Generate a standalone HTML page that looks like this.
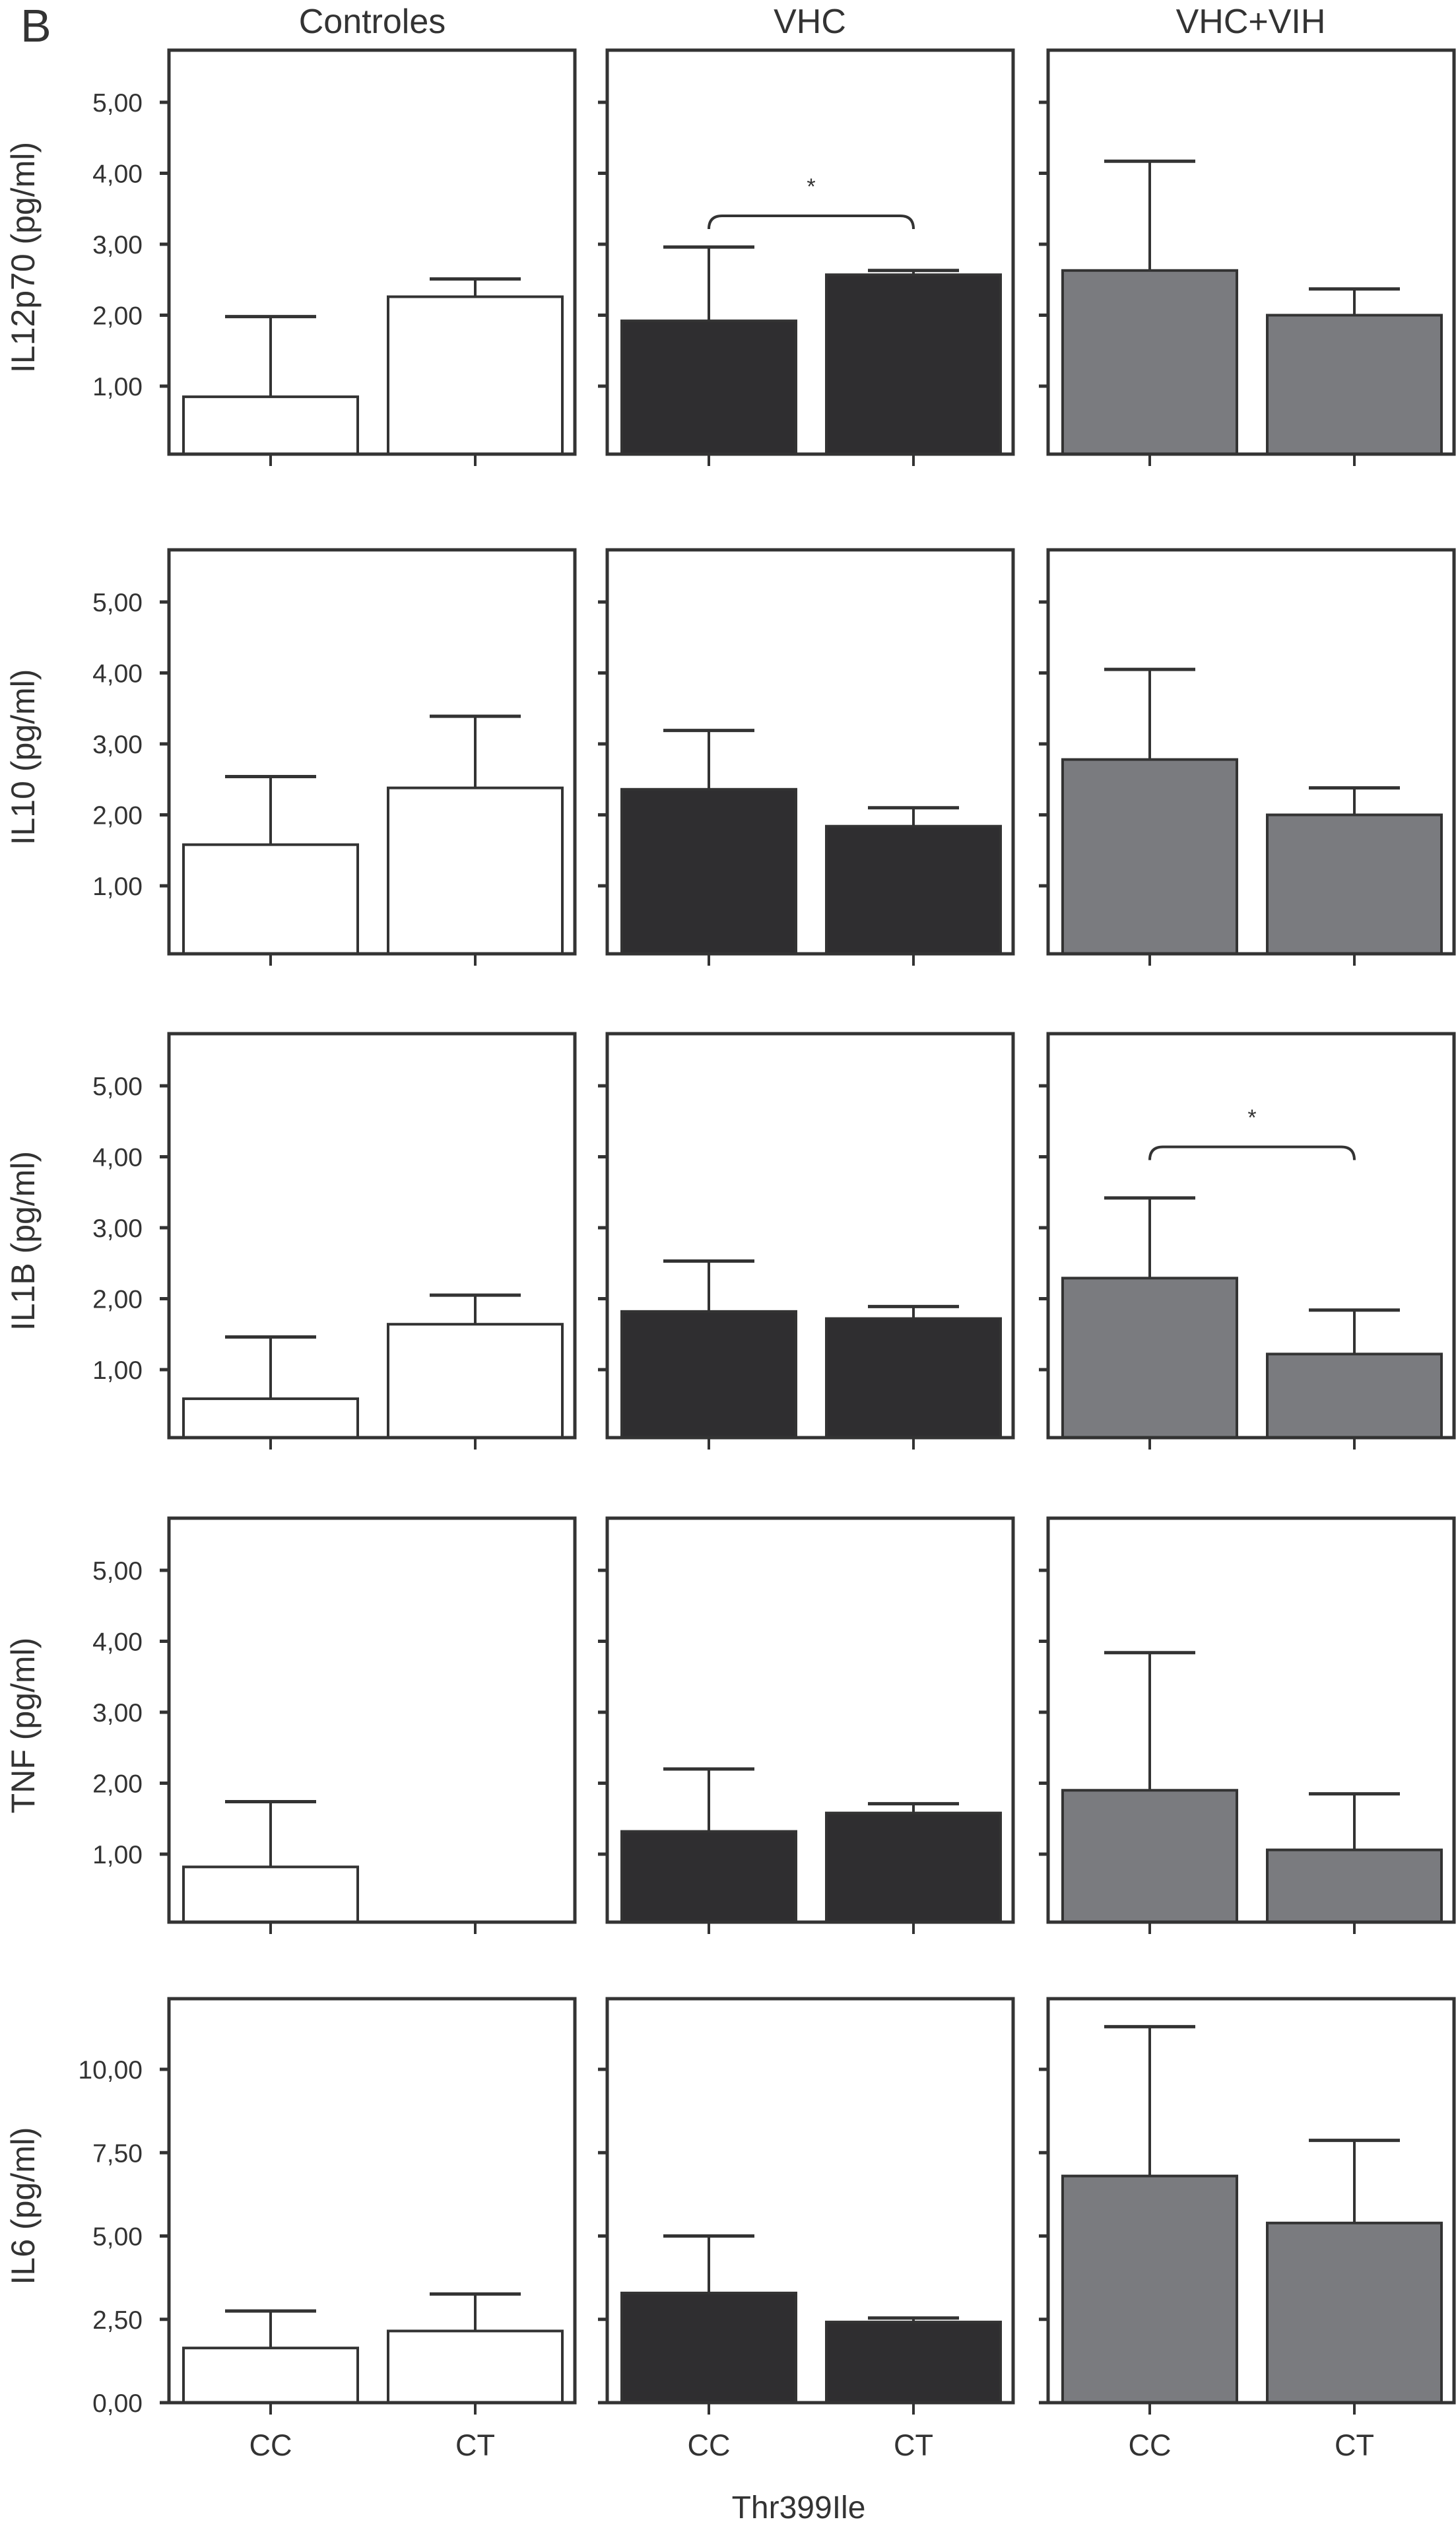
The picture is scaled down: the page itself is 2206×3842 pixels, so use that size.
<!DOCTYPE html>
<html><head><meta charset="utf-8">
<style>
html,body{margin:0;padding:0;background:#fff;}
svg{display:block;}
text{font-family:"Liberation Sans",sans-serif;fill:#333;}
</style></head>
<body>
<svg id="chart" width="2206" height="3842" viewBox="0 0 2206 3842" xmlns="http://www.w3.org/2000/svg">
<text x="31" y="63" font-size="70">B</text>
<text x="564" y="50" font-size="52" text-anchor="middle">Controles</text>
<text x="1227" y="50" font-size="52" text-anchor="middle">VHC</text>
<text x="1895" y="50" font-size="52" text-anchor="middle">VHC+VIH</text>
<text x="1210" y="3815" font-size="48" text-anchor="middle">Thr399Ile</text>
<g id="plots"></g>
</svg>
<script>
// ---- data ----
const groups = ["Controles", "VHC", "VHC+VIH"];
const genotypes = ["CC", "CT"];
const cytokines = ["IL12p70 (pg/ml)", "IL10 (pg/ml)", "IL1B (pg/ml)", "TNF (pg/ml)", "IL6 (pg/ml)"];
// means [group][genotype] per cytokine
const il12Means = [[0.85, 2.26], [1.92, 2.57], [2.63, 2.00]];
const il12Errs  = [[1.98, 2.51], [2.96, 2.63], [4.17, 2.37]];
const il10Means = [[1.58, 2.38], [2.36, 1.84], [2.78, 2.00]];
const il10Errs  = [[2.54, 3.39], [3.19, 2.10], [4.05, 2.38]];
const il1bMeans = [[0.59, 1.64], [1.82, 1.72], [2.29, 1.22]];
const il1bErrs  = [[1.46, 2.05], [2.53, 1.89], [3.42, 1.84]];
const tnfMeans  = [[0.82, null], [1.32, 1.58], [1.90, 1.06]];
const tnfErrs   = [[1.74, null], [2.20, 1.71], [3.84, 1.85]];
const il6Means  = [[1.64, 2.15], [3.29, 2.42], [6.80, 5.39]];
const il6Errs   = [[2.75, 3.26], [5.00, 2.54], [11.28, 7.87]];
const smallTicks = [1, 2, 3, 4, 5];
const smallTickLabels = ["1,00", "2,00", "3,00", "4,00", "5,00"];
const il6Ticks = [0, 2.5, 5, 7.5, 10];
const il6TickLabels = ["0,00", "2,50", "5,00", "7,50", "10,00"];
// significance brackets: [row, group, bracketValue]
const sigRows = [0, 2];
const sigGroups = [1, 2];
const sigValues = [3.40, 4.14];

// ---- layout ----
const allMeans = [il12Means, il10Means, il1bMeans, tnfMeans, il6Means];
const allErrs = [il12Errs, il10Errs, il1bErrs, tnfErrs, il6Errs];
const rowTops = [76, 833, 1566, 2300, 3028];
const panelH = 612;
const colLefts = [256, 920, 1588];
const panelW = 615;
const fills = ["#ffffff", "#2f2e30", "#7a7b7f"];
const ink = "#333333";
const NS = "http://www.w3.org/2000/svg";
const root = document.getElementById("plots");

function yScale(r) {
  const top = rowTops[r];
  if (r === 4) {
    const bottom = top + panelH;
    const per = (bottom - (top + 107)) / 10;
    return v => bottom - v * per;
  }
  return v => top + 79 + (5 - v) * 107.5;
}
function xScale(c) {
  const left = colLefts[c];
  return i => left + 154 + i * 310;
}
function mk(tag, attrs, parent) {
  const e = document.createElementNS(NS, tag);
  for (const k in attrs) e.setAttribute(k, attrs[k]);
  (parent || root).appendChild(e);
  return e;
}

for (let r = 0; r < cytokines.length; r++) {
  const y = yScale(r);
  const top = rowTops[r], bottom = top + panelH;
  const ticks = r === 4 ? il6Ticks : smallTicks;
  const labels = r === 4 ? il6TickLabels : smallTickLabels;
  const cy = top + panelH / 2 + 8;
  const yt = mk("text", {x: 52, y: cy, "font-size": 50, "text-anchor": "middle",
    transform: "rotate(-90 52 " + cy + ")"});
  yt.textContent = cytokines[r];
  
  
  for (let c = 0; c < groups.length; c++) {
    const left = colLefts[c];
    const x = xScale(c);
    const g = mk("g", {});
    
    
    for (let i = 0; i < genotypes.length; i++) {
      const m = allMeans[r][c][i], e = allErrs[r][c][i];
      if (m === null) continue;
      const cx = x(i);
      const ym = y(m), ye = y(e);
      const eb = mk("line", {x1: cx, x2: cx, y1: ye, y2: ym, stroke: ink, "stroke-width": 4}, g);
      
      
      const cap = mk("line", {x1: cx - 69, x2: cx + 69, y1: ye, y2: ye, stroke: ink, "stroke-width": 5}, g);
      
      
      const bar = mk("rect", {x: cx - 132, y: ym, width: 264, height: bottom - ym, fill: fills[c], stroke: ink, "stroke-width": 4}, g);
      
      
    }
    const fr = mk("rect", {x: left, y: top, width: panelW, height: panelH, fill: "none", stroke: ink, "stroke-width": 5}, g);
    
    
    for (let t = 0; t < ticks.length; t++) {
      const ty = y(ticks[t]);
      const tk = mk("line", {x1: left - 14, x2: left, y1: ty, y2: ty, stroke: ink, "stroke-width": 5}, g);
      
      
      if (c === 0) {
        const tl = mk("text", {x: 216, y: ty + 14, "font-size": 39, "text-anchor": "end"}, g);
        tl.textContent = labels[t];
        
        
      }
    }
    for (let i = 0; i < genotypes.length; i++) {
      const tx = x(i);
      const xt = mk("line", {x1: tx, x2: tx, y1: bottom, y2: bottom + 18, stroke: ink, "stroke-width": 4}, g);
      
      
      if (r === 4) {
        const xl = mk("text", {x: tx, y: 3720, "font-size": 45, "text-anchor": "middle"}, g);
        xl.textContent = genotypes[i];
        
        
      }
    }
  }
}
for (let s = 0; s < sigRows.length; s++) {
  const y = yScale(sigRows[s]);
  const x = xScale(sigGroups[s]);
  const by = y(sigValues[s]);
  const x1 = x(0), x2 = x(1);
  const br = mk("path", {d: "M" + x1 + " " + (by + 20) + " Q" + x1 + " " + by + " " + (x1 + 20) + " " + by +
    " L" + (x2 - 20) + " " + by + " Q" + x2 + " " + by + " " + x2 + " " + (by + 20),
    fill: "none", stroke: ink, "stroke-width": 4});
  
  
  const st = mk("text", {x: (x1 + x2) / 2, y: by - 33, "font-size": 34, "text-anchor": "middle"});
  st.textContent = "*";
  
  
}
</script>
</body></html>
